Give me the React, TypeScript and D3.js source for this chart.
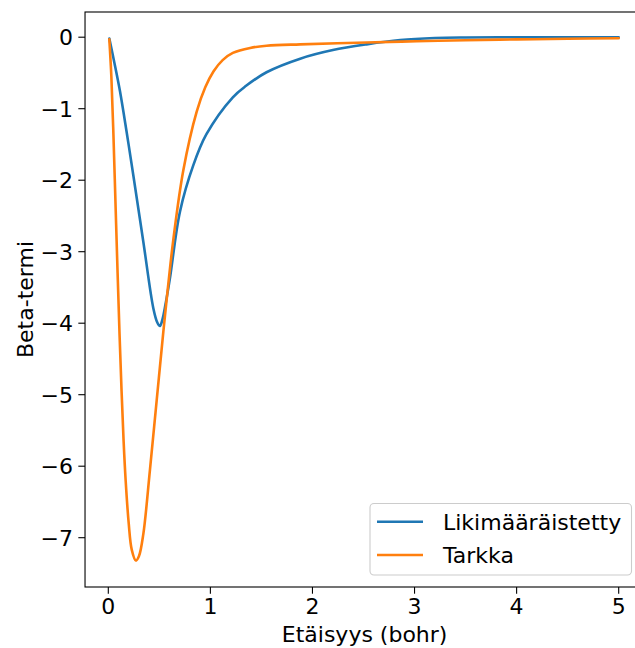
import React from "react";
import * as d3 from "d3";

const xTicks = [0, 1, 2, 3, 4, 5];
const yTicks = [0, -1, -2, -3, -4, -5, -6, -7];

const approxX = [0.01, 0.06, 0.115, 0.18, 0.245, 0.343, 0.441, 0.48, 0.506, 0.53, 0.56, 0.604, 0.702, 0.833, 0.96, 1.22, 1.35, 1.55, 1.88, 2.2, 2.53, 2.86, 3.2, 3.5, 4.0, 4.5, 5.0];
const approxY = [-0.02, -0.36, -0.76, -1.33, -1.93, -2.86, -3.79, -3.99, -4.04, -3.95, -3.74, -3.37, -2.44, -1.79, -1.36, -0.84, -0.68, -0.49, -0.3, -0.18, -0.1, -0.04, -0.012, -0.004, -0.001, 0.0, 0.0];

const exactX = [0.01, 0.03, 0.05, 0.07, 0.09, 0.11, 0.13, 0.15, 0.17, 0.2, 0.23, 0.27, 0.3, 0.343, 0.408, 0.474, 0.539, 0.588, 0.637, 0.735, 0.866, 0.95, 1.03, 1.12, 1.22, 1.39, 1.55, 1.88, 2.53, 3.02, 3.5, 4.0, 4.5, 5.0];
const exactY = [-0.03, -0.55, -1.35, -2.3, -3.25, -4.15, -4.95, -5.65, -6.2, -6.8, -7.17, -7.32, -7.26, -6.95, -6.05, -5.08, -4.12, -3.45, -2.83, -1.86, -1.04, -0.7, -0.48, -0.32, -0.22, -0.15, -0.12, -0.1, -0.075, -0.056, -0.042, -0.031, -0.022, -0.015];

const seriesNames = ["Likimääräistetty", "Tarkka"];
const colors = ["#1f77b4", "#ff7f0e"];

export default function App() {
  const W = 635, H = 648;
  const x = d3.scaleLinear().domain([0, 5]).range([108.3, 618.7]);
  const y = d3.scaleLinear().domain([0, -7]).range([37.2, 537.7]);
  const left = x(-0.228), right = x(5.25);
  const top = 12, bottom = 587;
  const font = "DejaVu Sans, sans-serif";
  const fs = 22;

  const line = d3
    .line<[number, number]>()
    .x((d) => x(d[0]))
    .y((d) => y(d[1]))
    .curve(d3.curveCatmullRom.alpha(0.5));

  const approx: [number, number][] = approxX.map((v, i) => [v, approxY[i]]);
  const exact: [number, number][] = exactX.map((v, i) => [v, exactY[i]]);

  return (
    <svg
      width={W}
      height={H}
      style={{ position: "absolute", left: 0, top: 0, background: "#fff" }}
      fontFamily={font}
    >
      <defs>
        <clipPath id="plotclip">
          <rect x={left} y={top} width={right - left} height={bottom - top} />
        </clipPath>
      </defs>
      <g clipPath="url(#plotclip)">
        <path d={line(approx) || ""} fill="none" stroke={colors[0]} strokeWidth={2.6} strokeLinejoin="round" strokeLinecap="round" />
        <path d={line(exact) || ""} fill="none" stroke={colors[1]} strokeWidth={2.6} strokeLinejoin="round" strokeLinecap="round" />
      </g>
      <rect x={left} y={top} width={right - left} height={bottom - top} fill="none" stroke="#000" strokeWidth={1.1} />
      {xTicks.map((t) => (
        <g key={"x" + t}>
          <line x1={x(t)} x2={x(t)} y1={bottom} y2={bottom + 6.7} stroke="#000" strokeWidth={1.1} />
          <text x={x(t)} y={614} textAnchor="middle" fontSize={fs} fill="#000">
            {String(t)}
          </text>
        </g>
      ))}
      {yTicks.map((t) => (
        <g key={"y" + t}>
          <line x1={left - 6.7} x2={left} y1={y(t)} y2={y(t)} stroke="#000" strokeWidth={1.1} />
          <text x={73} y={y(t) + 8} textAnchor="end" fontSize={fs} fill="#000">
            {t < 0 ? "\u2212" + Math.abs(t) : String(t)}
          </text>
        </g>
      ))}
      <text x={(left + right) / 2} y={642} textAnchor="middle" fontSize={fs} fill="#000">
        Etäisyys (bohr)
      </text>
      <text transform={`translate(33, ${(top + bottom) / 2}) rotate(-90)`} textAnchor="middle" fontSize={fs} fill="#000">
        Beta-termi
      </text>
      <g>
        <rect x={370} y={503.5} width={261.5} height={71.5} rx={4} fill="#fff" fillOpacity={0.8} stroke="#ccc" strokeWidth={1.1} />
        {seriesNames.map((n, i) => (
          <g key={n}>
            <line x1={377} x2={423} y1={521.7 + i * 33.3} y2={521.7 + i * 33.3} stroke={colors[i]} strokeWidth={2.6} />
            <text x={443} y={521.7 + i * 33.3 + 8} fontSize={fs} fill="#000">
              {n}
            </text>
          </g>
        ))}
      </g>
    </svg>
  );
}
